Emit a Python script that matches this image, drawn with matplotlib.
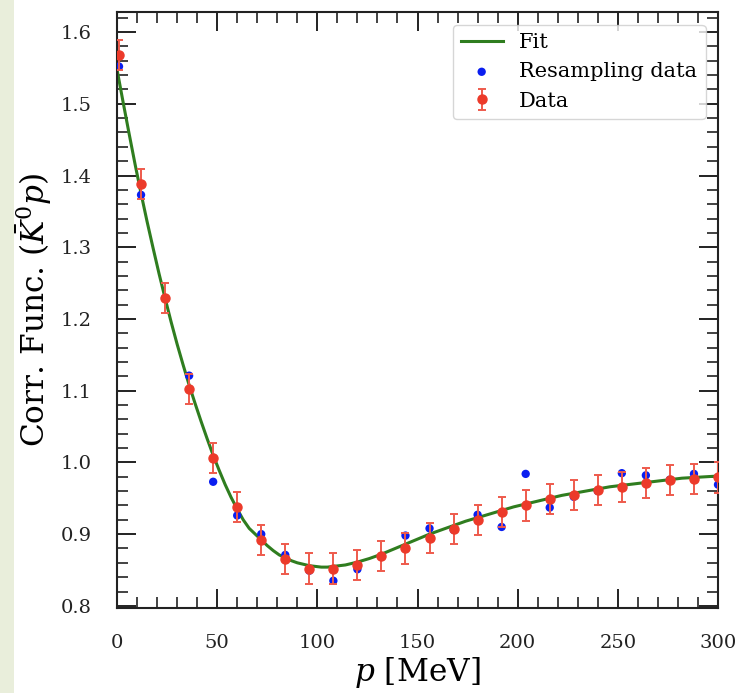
import matplotlib
matplotlib.use("Agg")
import matplotlib.pyplot as plt
from matplotlib.ticker import MultipleLocator
from matplotlib.patches import Rectangle

# ---- data ----
p_data = [1, 12, 24, 36, 48, 60, 72, 84, 96, 108, 120, 132, 144, 156, 168,
          180, 192, 204, 216, 228, 240, 252, 264, 276, 288, 300]
c_data = [1.568, 1.388, 1.229, 1.102, 1.006, 0.938, 0.892, 0.865, 0.852, 0.852,
          0.857, 0.869, 0.880, 0.894, 0.907, 0.920, 0.931, 0.940, 0.949, 0.955,
          0.962, 0.966, 0.971, 0.975, 0.977, 0.979]
c_err = [0.021] * len(p_data)

c_resamp = [1.552, 1.373, 1.229, 1.121, 0.973, 0.926, 0.900, 0.871, 0.849, 0.835,
            0.851, 0.869, 0.898, 0.908, 0.906, 0.927, 0.910, 0.984, 0.937, 0.952,
            0.960, 0.985, 0.982, 0.976, 0.984, 0.969]

p_fit = [0, 3, 6, 9, 12, 15, 18, 21, 24, 27, 30, 33, 36, 39, 42, 45, 48, 51, 54,
         57, 60, 63, 66, 69, 72, 75, 78, 81, 84, 87, 90, 93, 96, 99, 102, 105,
         108, 111, 114, 117, 120, 126, 132, 138, 144, 150, 156, 162, 168, 174,
         180, 186, 192, 198, 204, 210, 216, 222, 228, 234, 240, 246, 252, 258,
         264, 270, 276, 282, 288, 294, 300]
c_fit = [1.548, 1.503, 1.459, 1.416, 1.375, 1.336, 1.299, 1.263, 1.229, 1.196,
         1.165, 1.136, 1.108, 1.082, 1.057, 1.033, 1.010, 0.989, 0.969, 0.951,
         0.935, 0.920, 0.908, 0.900, 0.892, 0.884, 0.877, 0.871, 0.867, 0.863,
         0.860, 0.858, 0.856, 0.855, 0.854, 0.854, 0.855, 0.856, 0.857, 0.859,
         0.861, 0.866, 0.872, 0.879, 0.886, 0.893, 0.900, 0.906, 0.912, 0.918,
         0.923, 0.928, 0.933, 0.938, 0.942, 0.946, 0.950, 0.954, 0.957, 0.960,
         0.963, 0.966, 0.968, 0.970, 0.972, 0.974, 0.976, 0.978, 0.979, 0.980,
         0.981]

plt.rcParams['font.family'] = ['DejaVu Serif']
plt.rcParams['mathtext.fontset'] = 'dejavuserif'

fig = plt.figure(figsize=(7.42, 6.93), dpi=100)
fig.patches.append(Rectangle((0, 0), 14 / 742, 1, transform=fig.transFigure,
                             facecolor='#e9eedb', edgecolor='none', zorder=0))
ax = fig.add_axes([117 / 742, 85 / 693, 601 / 742, 596 / 693])

ax.plot(p_fit, c_fit, color='#2f7d1f', lw=2.2, label='Fit', zorder=2)
ax.scatter(p_data, c_resamp, s=36, color='#0a1ef0', label='Resampling data',
           zorder=3, edgecolors='none')
ax.errorbar(p_data, c_data, yerr=c_err, fmt='o', color='#ec3a2a', ms=6.5,
            ecolor='#ee5a4c', elinewidth=1.4, capsize=2.8, capthick=1.4,
            label='Data', zorder=4)

ax.set_xlim(0, 300)
ax.set_ylim(0.797, 1.628)
ax.xaxis.set_major_locator(MultipleLocator(50))
ax.xaxis.set_minor_locator(MultipleLocator(10))
ax.yaxis.set_major_locator(MultipleLocator(0.1))
ax.yaxis.set_minor_locator(MultipleLocator(0.02))
ax.tick_params(which='both', direction='in', top=True, right=True,
               labelsize=14, colors='#222222')
ax.tick_params(which='major', length=14, width=1.4)
ax.tick_params(which='minor', length=8, width=1.2)
ax.tick_params(axis='x', which='major', pad=19)
ax.tick_params(axis='y', which='major', pad=18)
for s in ax.spines.values():
    s.set_linewidth(1.5)
    s.set_color('#222222')

ax.set_xlabel(r'$p$ [MeV]', fontsize=22.5, labelpad=2)
ax.set_ylabel(r'Corr. Func. $(\bar{K}^0p)$', fontsize=22.5, labelpad=5)

leg = ax.legend(loc='upper right', fontsize=15, frameon=True, fancybox=True,
                borderaxespad=0.6)
leg.get_frame().set_edgecolor('#cccccc')

fig.savefig('out.png', dpi=100)
